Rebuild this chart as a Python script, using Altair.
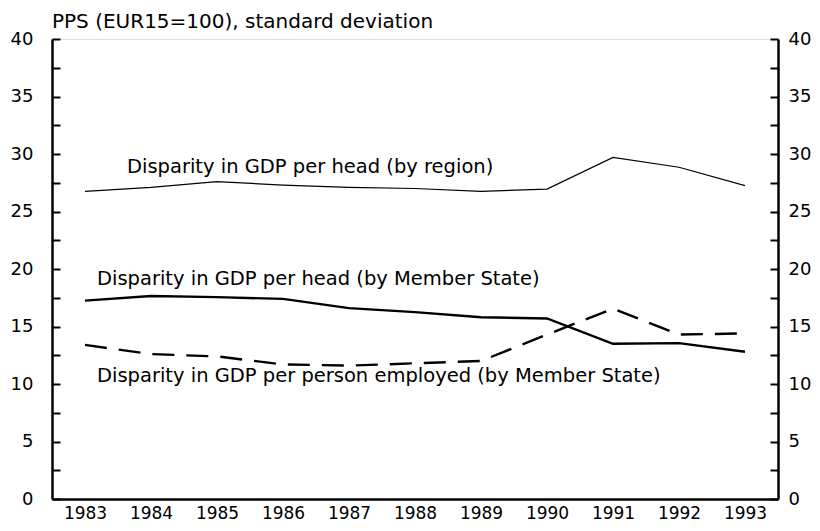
import altair as alt
import pandas as pd

# ---- data -------------------------------------------------------------
years = ["1983", "1984", "1985", "1986", "1987", "1988", "1989",
         "1990", "1991", "1992", "1993"]
region = [26.75, 27.1, 27.6, 27.3, 27.1, 27.0, 26.75, 26.95, 29.7, 28.85, 27.25]
member_state = [17.25, 17.65, 17.55, 17.4, 16.6, 16.25, 15.8, 15.7, 13.5, 13.55, 12.8]
employed = [13.4, 12.6, 12.4, 11.7, 11.6, 11.8, 12.0, 14.3, 16.55, 14.3, 14.4]

series_names = ["region", "member", "employed"]

label_texts = [
    "Disparity in GDP per head (by region)",
    "Disparity in GDP per head (by Member State)",
    "Disparity in GDP per person employed (by Member State)",
]
label_years = ["1983", "1983", "1983"]
label_values = [28.35, 18.63, 10.14]

y_major = [0, 5, 10, 15, 20, 25, 30, 35, 40]
y_minor = [0, 2.5, 5, 7.5, 10, 12.5, 15, 17.5, 20, 22.5, 25, 27.5,
           30, 32.5, 35, 37.5, 40]

title_text = "PPS (EUR15=100), standard deviation"
title_year = ["1983"]
title_value = [40]

# ---- tables -------------------------------------------------------------
lines_df = pd.DataFrame({
    "year": years * 3,
    "value": region + member_state + employed,
    "series": [s for s in series_names for _ in years],
})
labels_df = pd.DataFrame({"year": label_years, "value": label_values,
                          "label": label_texts})
title_df = pd.DataFrame({"year": title_year, "value": title_value,
                         "label": [title_text]})

FONT = "DejaVu Sans"
TICK_FS = 18
XTICK_FS = 17
LABEL_FS = 19.5
TITLE_FS = 20

x_axis = alt.Axis(orient="bottom", domain=True, domainColor="black",
                  domainWidth=2.5, ticks=False, labels=True, labelAngle=0,
                  labelFont=FONT, labelFontSize=XTICK_FS, labelColor="black",
                  labelPadding=6, title=None, grid=False)
x_enc = alt.X("year:O", scale=alt.Scale(type="point", padding=0.5), axis=x_axis)
y_scale = alt.Scale(domain=[0, 40], nice=False, zero=True)

left_labels = alt.Axis(orient="left", values=y_major, domain=True,
                       domainColor="black", domainWidth=2.5, ticks=False,
                       labelFont=FONT, labelFontSize=TICK_FS, labelColor="black",
                       labelPadding=19, title=None, grid=False)
left_ticks = alt.Axis(orient="left", values=y_minor, offset=-8, domain=False,
                      ticks=True, tickSize=8, tickWidth=2, tickColor="black",
                      labels=False, title=None, grid=False)
right_labels = alt.Axis(orient="right", values=y_major, domain=True,
                        domainColor="black", domainWidth=2.5, ticks=False,
                        labelFont=FONT, labelFontSize=TICK_FS, labelColor="black",
                        labelPadding=10, title=None, grid=False)
right_ticks = alt.Axis(orient="right", values=y_minor, offset=-8, domain=False,
                       ticks=True, tickSize=8, tickWidth=2, tickColor="black",
                       labels=False, title=None, grid=False)

base = alt.Chart(lines_df)

region_line = base.mark_line(color="black", strokeWidth=1.2).encode(
    x=x_enc, y=alt.Y("value:Q", scale=y_scale, axis=left_labels)
).transform_filter(alt.datum.series == "region")

member_line = base.mark_line(color="black", strokeWidth=2.4).encode(
    x=x_enc, y=alt.Y("value:Q", scale=y_scale, axis=left_ticks)
).transform_filter(alt.datum.series == "member")

employed_line = base.mark_line(color="black", strokeWidth=2.4,
                               strokeDash=[22, 12]).encode(
    x=x_enc, y=alt.Y("value:Q", scale=y_scale, axis=right_labels)
).transform_filter(alt.datum.series == "employed")

lab = alt.Chart(labels_df)
label_region = lab.mark_text(align="left", baseline="alphabetic", dx=42,
                             font=FONT, fontSize=LABEL_FS, color="black").encode(
    x=x_enc, y=alt.Y("value:Q", scale=y_scale, axis=right_ticks), text="label:N"
).transform_filter(alt.datum.label == label_texts[0])

label_others = lab.mark_text(align="left", baseline="alphabetic", dx=12,
                             font=FONT, fontSize=LABEL_FS, color="black").encode(
    x=x_enc, y=alt.Y("value:Q", scale=y_scale, axis=None), text="label:N"
).transform_filter(alt.datum.label != label_texts[0])

title_mark = alt.Chart(title_df).mark_text(
    align="left", baseline="alphabetic", dx=-33, dy=-11,
    font=FONT, fontSize=TITLE_FS, color="black"
).encode(
    x=x_enc, y=alt.Y("value:Q", scale=y_scale, axis=None), text="label:N"
)

chart = alt.layer(
    region_line, member_line, employed_line, label_region, label_others,
    title_mark
).resolve_axis(y="independent").properties(
    width=726, height=460,
    autosize=alt.AutoSizeParams(type="none"),
    padding={"left": 44, "top": 31, "right": 34, "bottom": 24},
).configure_view(strokeWidth=0, stroke="transparent").configure(background="white")

chart.save("out.html", embed_options={"renderer": "svg", "actions": False})
